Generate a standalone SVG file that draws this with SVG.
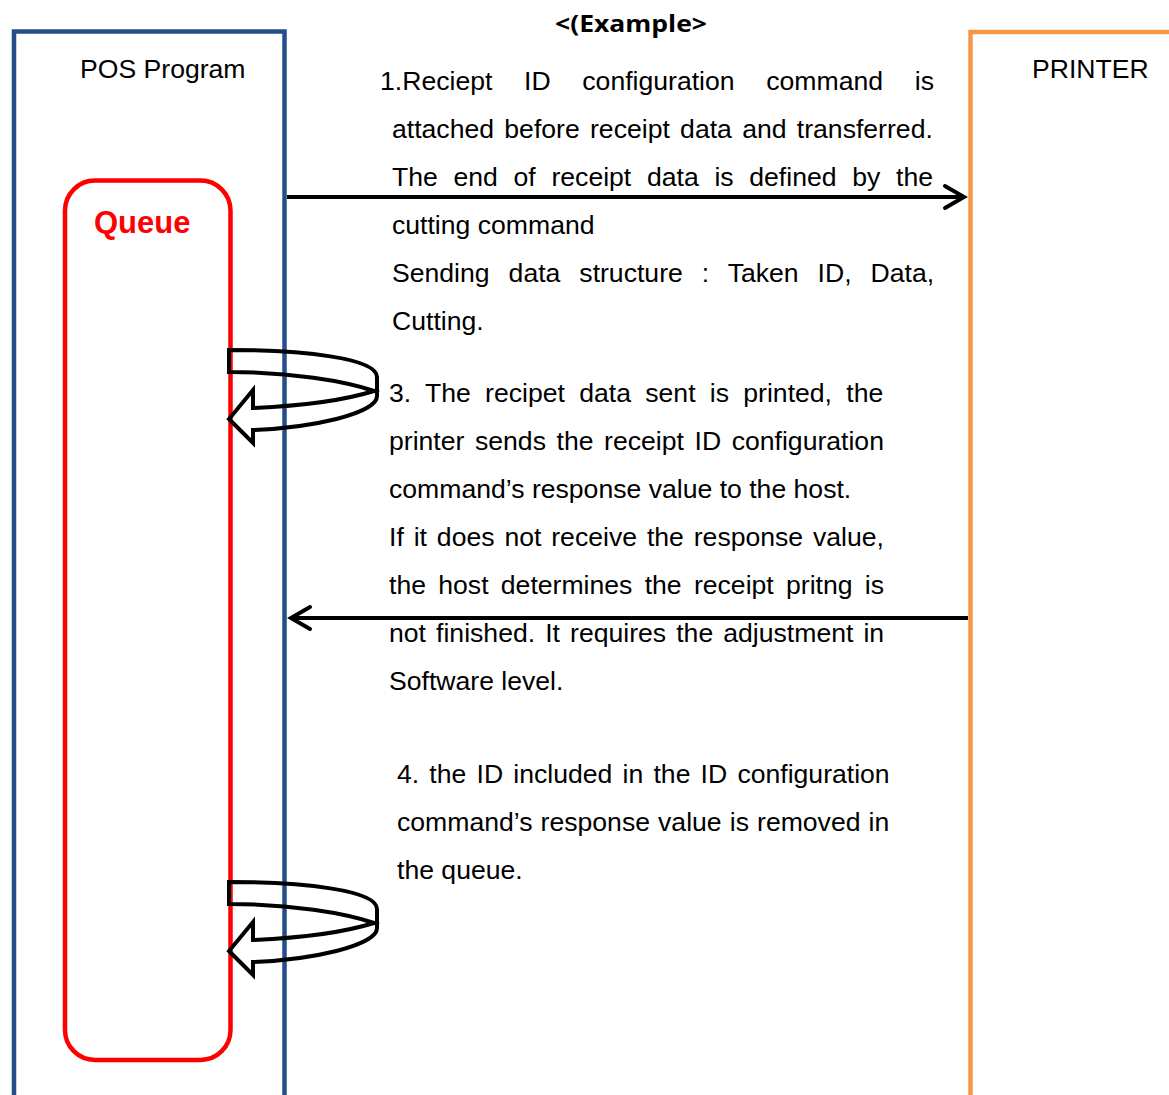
<svg xmlns="http://www.w3.org/2000/svg" width="1169" height="1095" viewBox="0 0 1169 1095">
<style>
.t{font-family:"Liberation Sans",Arial,sans-serif;font-size:26.6px;fill:#000}
.title{font-family:"Open Sans","DejaVu Sans",sans-serif;font-weight:bold;font-size:23px;fill:#000}
.q{font-family:"Liberation Sans",Arial,sans-serif;font-weight:bold;font-size:31px;fill:#ff0000}
.conn{stroke:#000;stroke-width:4;fill:none}
.uturn{stroke:#000;stroke-width:4;fill:none;stroke-linejoin:miter}
</style>
<defs>
<marker id="chev" markerUnits="userSpaceOnUse" markerWidth="30" markerHeight="30" refX="22" refY="13" orient="auto" overflow="visible">
<path d="M3,2 L22,13 L3,24" fill="none" stroke="#000" stroke-width="4" stroke-linecap="round"/>
</marker>
<path id="uturnShape" d="M229,350 C302,350 377,358 377,377 L377,396 C377,414 310,428 253,430 L253,443 L229,419 L253,390 L253,408 C300,406 345,400 374,391 C345,381 290,372 229,372 Z"/>
</defs>
<rect width="1169" height="1095" fill="#fff"/>

<g id="pos-program">
<rect x="14" y="31.5" width="270.5" height="1100" fill="none" stroke="#254E88" stroke-width="4.5"/>
<text class="t" x="80" y="78">POS Program</text>
</g>

<g id="printer">
<rect x="970.5" y="32" width="260" height="1100" fill="none" stroke="#F79646" stroke-width="4.5"/>
<text class="t" x="1032" y="78">PRINTER</text>
</g>

<g id="queue">
<rect x="65" y="180.5" width="165.5" height="879.5" rx="30" ry="30" fill="none" stroke="#ff0000" stroke-width="4.5"/>
<text class="q" x="94" y="233">Queue</text>
</g>

<g id="title">
<text class="title" x="555" y="32" textLength="152" lengthAdjust="spacingAndGlyphs">&lt;(Example&gt;</text>
</g>

<g id="connectors">
<line class="conn" x1="287" y1="197" x2="964" y2="197" marker-end="url(#chev)"/>
<line class="conn" x1="968" y1="618" x2="291" y2="618" marker-end="url(#chev)"/>
<use href="#uturnShape" class="uturn"/>
<use href="#uturnShape" class="uturn" transform="translate(0,532)"/>
</g>

<g id="step1-text">
<text class="t" x="380" y="90" style="word-spacing:24.3px">1.Reciept ID configuration command is</text>
<text class="t" x="392" y="138" style="word-spacing:2.9px">attached before receipt data and transferred.</text>
<text class="t" x="392" y="186" style="word-spacing:8.3px">The end of receipt data is defined by the</text>
<text class="t" x="392" y="234">cutting command</text>
<text class="t" x="392" y="282" style="word-spacing:11.6px">Sending data structure : Taken ID, Data,</text>
<text class="t" x="392" y="330">Cutting.</text>
</g>

<g id="step3-text">
<text class="t" x="389" y="402" style="word-spacing:6.9px">3. The recipet data sent is printed, the</text>
<text class="t" x="389" y="450" style="word-spacing:3.2px">printer sends the receipt ID configuration</text>
<text class="t" x="389" y="498">command’s response value to the host.</text>
<text class="t" x="389" y="546" style="word-spacing:2.5px">If it does not receive the response value,</text>
<text class="t" x="389" y="594" style="word-spacing:4.9px">the host determines the receipt pritng is</text>
<text class="t" x="389" y="642" style="word-spacing:2.7px">not finished. It requires the adjustment in</text>
<text class="t" x="389" y="690">Software level.</text>
</g>

<g id="step4-text">
<text class="t" x="397" y="783" style="word-spacing:2.8px">4. the ID included in the ID configuration</text>
<text class="t" x="397" y="831" style="word-spacing:0.7px">command’s response value is removed in</text>
<text class="t" x="397" y="879">the queue.</text>
</g>
</svg>
